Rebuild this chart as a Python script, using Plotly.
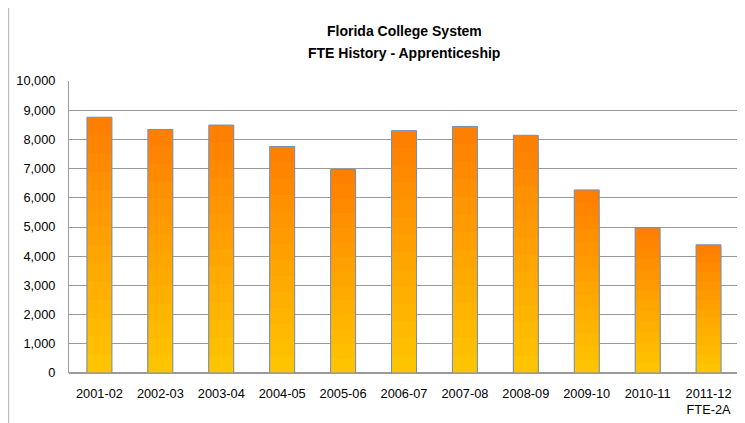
import plotly.graph_objects as go

categories = ["2001-02", "2002-03", "2003-04", "2004-05", "2005-06", "2006-07",
              "2007-08", "2008-09", "2009-10", "2010-11", "2011-12<br>FTE-2A"]
fte_values = [8760, 8340, 8490, 7760, 6970, 8300, 8445, 8140, 6270, 4975, 4390]
y_ticks = [0, 1000, 2000, 3000, 4000, 5000, 6000, 7000, 8000, 9000, 10000]
y_tick_labels = ["0", "1,000", "2,000", "3,000", "4,000", "5,000", "6,000",
                 "7,000", "8,000", "9,000", "10,000"]
title_lines = ["Florida College System", "FTE History - Apprenticeship"]

FONT = "Liberation Sans, Arial, sans-serif"

fig = go.Figure()

# gradient-like fill: overlaid bars, orange at top fading to yellow at bottom
top = (255, 128, 0)
bottom = (255, 196, 0)
n = 14
for i in range(n):
    f = 1 - i / n
    t = i / (n - 1)
    c = tuple(round(top[k] + (bottom[k] - top[k]) * t) for k in range(3))
    fig.add_trace(go.Bar(
        x=categories, y=[v * f for v in fte_values],
        marker=dict(color="rgb(%d,%d,%d)" % c, line=dict(width=0)),
        width=0.41, hoverinfo="skip", showlegend=False))

# outline trace
fig.add_trace(go.Bar(
    x=categories, y=fte_values, name="FTE",
    marker=dict(color="rgba(0,0,0,0)", line=dict(color="#6f8fbf", width=1)),
    width=0.41, showlegend=False))

fig.update_layout(
    barmode="overlay",
    width=745, height=423,
    margin=dict(l=61, r=14, t=73, b=58),
    paper_bgcolor="white", plot_bgcolor="white",
    font=dict(family=FONT, size=12.8, color="#000000"),
    xaxis=dict(type="category", showgrid=False, showline=False, ticks="",
               ticklabelstandoff=11, tickfont=dict(size=12.8), automargin=False),
    yaxis=dict(range=[0, 10000], tickvals=y_ticks, ticktext=y_tick_labels,
               showgrid=True, gridcolor="#9a9a9a", gridwidth=1,
               showline=True, linecolor="#9a9a9a", linewidth=1,
               ticks="", ticklabelstandoff=10, tickfont=dict(size=12.8),
               zeroline=True, zerolinecolor="#9a9a9a", automargin=False),
    annotations=[
        dict(text="<b>%s</b>" % title_lines[0], xref="paper", yref="paper",
             x=0.5, y=1.171, xanchor="center", yanchor="middle", showarrow=False,
             font=dict(family=FONT, size=14, color="#000000")),
        dict(text="<b>%s</b>" % title_lines[1], xref="paper", yref="paper",
             x=0.5, y=1.096, xanchor="center", yanchor="middle", showarrow=False,
             font=dict(family=FONT, size=14, color="#000000")),
    ],
    shapes=[dict(type="line", xref="paper", yref="paper",
                 x0=-0.0903, x1=-0.0903, y0=-0.3, y1=1.3,
                 line=dict(color="#bfbfbf", width=1.5), layer="below")],
)

fig.write_html("out.html")
